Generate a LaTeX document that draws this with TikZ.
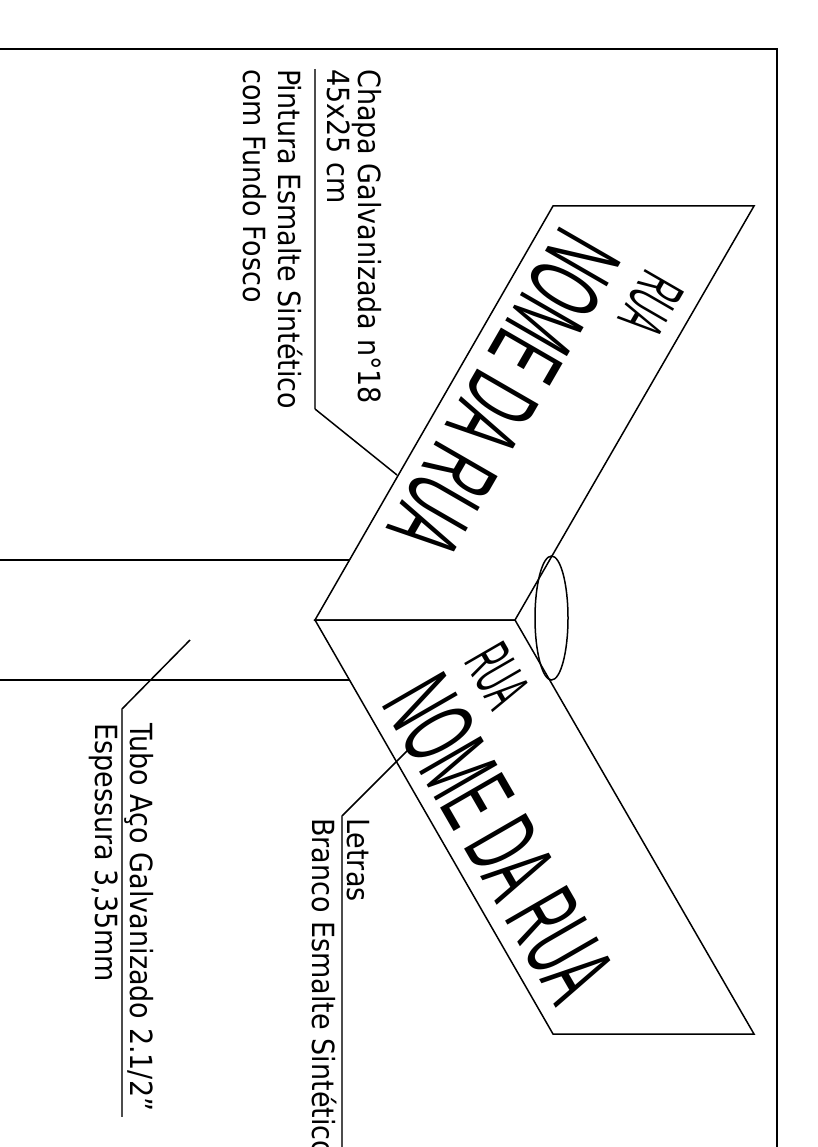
\documentclass[tikz,border=0pt]{standalone}
\usepackage{fontspec}
\usetikzlibrary{shapes.geometric}
\setmainfont{DejaVu Sans}
\newfontfamily\signfont{Liberation Sans}
\newcommand{\tallnote}[1]{\scalebox{1}[1.13]{#1}}
\tikzset{
  x=1pt,y=-1pt,
  frameline/.style={draw=black,line width=1.6pt},
  thinline/.style={draw=black,line width=1.5pt},
  leader/.style={draw=black!70,line width=1.5pt},
  note/.style={rotate=-90,anchor=base west,inner sep=0pt,font=\fontsize{27}{32}\selectfont},
  bigsign/.style={anchor=base west,inner sep=0pt,font=\signfont\fontsize{50}{60}\selectfont},
  smallsign/.style={anchor=base west,inner sep=0pt,font=\signfont\fontsize{28}{34}\selectfont},
}
\begin{document}
\begin{tikzpicture}
\useasboundingbox (0,0) rectangle (818,1147);
\fill[white] (0,0) rectangle (818,1147);
\draw[frameline] (-5,49) -- (777,49) -- (777,1155);
% tube
\coordinate (tubeAl) at (-5,560);
\coordinate (tubeAr) at (349,560);
\coordinate (tubeBl) at (-5,680);
\coordinate (tubeBr) at (349,680);
\draw[thinline] (tubeAl) -- (tubeAr);
\draw[thinline] (tubeBl) -- (tubeBr);
% panels
\coordinate (v1) at (315,620);
\coordinate (v2) at (515,620);
\coordinate (u1) at (553,206);
\coordinate (u2) at (754,206);
\coordinate (l1) at (553,1034);
\coordinate (l2) at (754,1034);
\draw[thinline,line join=miter] (v1) -- (u1) -- (u2) -- (v2) -- cycle;
\draw[thinline,line join=miter] (v1) -- (l1) -- (l2) -- (v2) -- cycle;
\node[draw=black,line width=1.5pt,ellipse,minimum width=33pt,minimum height=124pt,inner sep=0pt] (collar) at (551.5,618) {};
% sign texts
\node[bigsign,rotate=-120] (nomeA) at (562,223) {\scalebox{1}[2.07]{NOME DA RUA}};
\node[smallsign,rotate=-120] (ruaA) at (647,267) {\scalebox{1}[2.35]{RUA}};
\node[bigsign,rotate=-60] (nomeB) at (380,703) {\scalebox{1}[2.07]{NOME DA RUA}};
\node[smallsign,rotate=-60] (ruaB) at (463,661) {\scalebox{1}[2.35]{RUA}};
% notes
\node[note] (chapa) at (358,69) {\tallnote{Chapa Galvanizada n°18}};
\node[note] (dim) at (327,69) {\tallnote{45x25 cm}};
\node[note] (pintura) at (278,69) {\tallnote{Pintura Esmalte Sintético}};
\node[note] (fundo) at (243,69) {\tallnote{com Fundo Fosco}};
\node[note] (tubo) at (130,723) {\tallnote{Tubo Aço Galvanizado 2.1/2"}};
\node[note] (esp) at (95,723) {\tallnote{Espessura 3,35mm}};
\node[note] (letras) at (347,818) {\tallnote{Letras}};
\node[note] (branco) at (312,818) {\tallnote{Branco Esmalte Sintético}};
% leaders
\coordinate (c1) at (315,69);
\coordinate (c2) at (315,409);
\coordinate (c3) at (397,475);
\draw[leader] (c1) -- (c2);
\draw[thinline] (c2) -- (c3);
\coordinate (t1) at (190,640);
\coordinate (t2) at (122,709);
\coordinate (t3) at (122,1117);
\draw[thinline] (t1) -- (t2);
\draw[leader] (t2) -- (t3);
\coordinate (b1) at (408,750);
\coordinate (b2) at (342,816);
\coordinate (b3) at (342,1155);
\draw[thinline] (b1) -- (b2);
\draw[leader] (b2) -- (b3);
\end{tikzpicture}
\end{document}
